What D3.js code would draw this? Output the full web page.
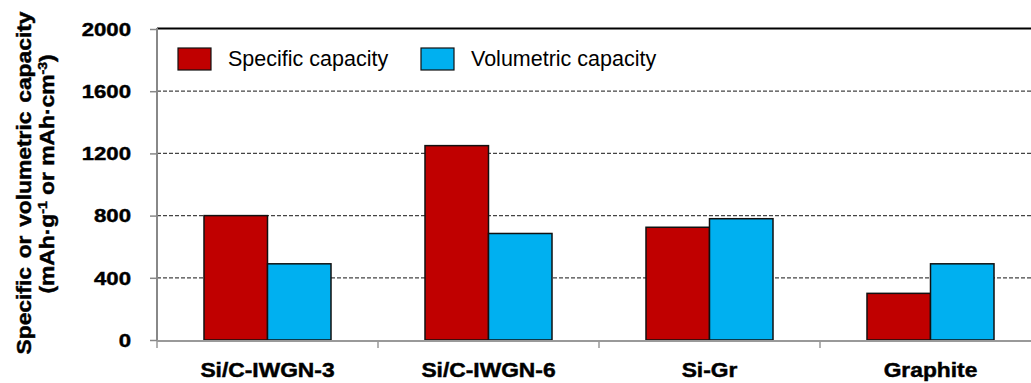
<!DOCTYPE html>
<html>
<head>
<meta charset="utf-8">
<script src="https://cdn.jsdelivr.net/npm/d3@7"></script>
<style>
  html, body { margin: 0; padding: 0; background: #fff; }
  svg { display: block; }
  .heavy { stroke: #000; stroke-width: 0.45px; paint-order: stroke; }
</style>
</head>
<body>
<svg id="chart" width="1031" height="383"></svg>
<script>
// Anode materials and their capacities
const categories = ["Si/C-IWGN-3", "Si/C-IWGN-6", "Si-Gr", "Graphite"];
const seriesNames = ["Specific capacity", "Volumetric capacity"];
const specificCapacity = [800, 1250, 725, 300];     // mAh·g⁻¹
const volumetricCapacity = [490, 685, 780, 490];    // mAh·cm⁻³
const yTicks = [0, 400, 800, 1200, 1600, 2000];
const colors = ["#C00000", "#00B0F0"];

(function draw() {
  const svg = d3.select("#chart");
  const FONT = "Arial, 'Liberation Sans', Helvetica, sans-serif";

  const plotLeft = 157, plotTop = 29, plotBottom = 340;
  const step = 221;

  const x = d3.scaleBand().domain(categories).range([plotLeft, plotLeft + step * categories.length]).paddingInner(0).paddingOuter(0);
  const xs = d3.scaleBand().domain(seriesNames).range([0, step]).paddingInner(0).paddingOuter(0.74);
  const y = d3.scaleLinear().domain([0, 2000]).range([plotBottom, plotTop]);

  // Dashed gridlines
  svg.append("g").selectAll("line")
    .data(yTicks.filter(t => t > 0 && t < 2000))
    .join("line")
    .attr("x1", plotLeft).attr("x2", 1031)
    .attr("y1", d => y(d)).attr("y2", d => y(d))
    .attr("stroke", "#444").attr("stroke-width", 1.2)
    .attr("stroke-dasharray", "4,2");

  // Top frame line
  svg.append("line")
    .attr("x1", plotLeft).attr("x2", 1031)
    .attr("y1", y(2000) - 0.5).attr("y2", y(2000) - 0.5)
    .attr("stroke", "#000").attr("stroke-width", 2.2);

  // Bars
  const rows = categories.map((c, i) => ({ c, vals: [specificCapacity[i], volumetricCapacity[i]] }));
  const groups = svg.append("g").selectAll("g")
    .data(rows).join("g")
    .attr("transform", d => `translate(${x(d.c)},0)`);
  groups.selectAll("rect")
    .data(d => d.vals.map((v, k) => ({ v, k })))
    .join("rect")
    .attr("x", d => xs(seriesNames[d.k]))
    .attr("width", xs.bandwidth())
    .attr("y", d => y(d.v))
    .attr("height", d => y(0) - y(d.v))
    .attr("fill", d => colors[d.k])
    .attr("stroke", "#111").attr("stroke-width", 1.5);

  // Y axis
  const yAxis = svg.append("g")
    .attr("transform", `translate(${plotLeft},0)`)
    .call(d3.axisLeft(y).tickValues(yTicks).tickSize(7).tickPadding(0).tickFormat(() => ""));
  yAxis.select(".domain").attr("stroke", "#888").attr("stroke-width", 2).attr("d", `M0,${plotTop - 1}V${plotBottom + 1}`);
  yAxis.selectAll(".tick line").attr("stroke", "#888").attr("stroke-width", 1.5);

  // Y tick labels (widened bold)
  svg.append("g").selectAll("text")
    .data(yTicks).join("text")
    .attr("class", "heavy")
    .attr("transform", d => `translate(131,${y(d) + 6.8}) scale(1.18,1)`)
    .attr("text-anchor", "end")
    .attr("font-family", FONT).attr("font-weight", "bold").attr("font-size", 18.8)
    .attr("fill", "#000")
    .text(d => d);

  // X axis
  const xAxis = svg.append("g")
    .attr("transform", `translate(0,${plotBottom + 1})`);
  xAxis.append("line")
    .attr("x1", plotLeft).attr("x2", 1031).attr("y1", 0).attr("y2", 0)
    .attr("stroke", "#999").attr("stroke-width", 2);
  xAxis.selectAll("line.tk")
    .data(categories).join("line").attr("class", "tk")
    .attr("x1", d => x(d)).attr("x2", d => x(d))
    .attr("y1", 0).attr("y2", 7)
    .attr("stroke", "#999").attr("stroke-width", 1.5);

  // Category labels
  svg.append("g").selectAll("text")
    .data(categories).join("text")
    .attr("class", "heavy")
    .attr("transform", d => `translate(${x(d) + x.bandwidth() / 2},377) scale(1.14,1)`)
    .attr("text-anchor", "middle")
    .attr("font-family", FONT).attr("font-weight", "bold").attr("font-size", 20)
    .attr("fill", "#000")
    .text(d => d);

  // Y axis title, two rotated lines
  svg.append("text")
    .attr("class", "heavy")
    .attr("transform", `translate(31,183) rotate(-90) scale(1.17,1)`)
    .attr("text-anchor", "middle")
    .attr("font-family", FONT).attr("font-weight", "bold").attr("font-size", 19.5)
    .attr("word-spacing", 2)
    .text("Specific or volumetric capacity");

  const t2 = svg.append("text")
    .attr("class", "heavy")
    .attr("transform", `translate(54,174) rotate(-90) scale(1.17,1)`)
    .attr("text-anchor", "middle")
    .attr("font-family", FONT).attr("font-weight", "bold").attr("font-size", 19.5);
  t2.append("tspan").text("(mAh·g");
  t2.append("tspan").attr("font-size", 12).attr("dy", -7).text("-1");
  t2.append("tspan").attr("dy", 7).text(" or mAh·cm");
  t2.append("tspan").attr("font-size", 12).attr("dy", -7).text("-3");
  t2.append("tspan").attr("dy", 7).text(")");

  // Legend
  const legendX = [178, 421];
  const legend = svg.append("g").selectAll("g")
    .data(seriesNames).join("g")
    .attr("transform", (d, i) => `translate(${legendX[i]},48)`);
  legend.append("rect")
    .attr("width", 33).attr("height", 22)
    .attr("fill", (d, i) => colors[i])
    .attr("stroke", "#111").attr("stroke-width", 1.2);
  legend.append("text")
    .attr("x", 50).attr("y", 18)
    .attr("font-family", FONT).attr("font-size", 21.5)
    .attr("fill", "#000")
    .text(d => d);
})();
</script>
</body>
</html>
